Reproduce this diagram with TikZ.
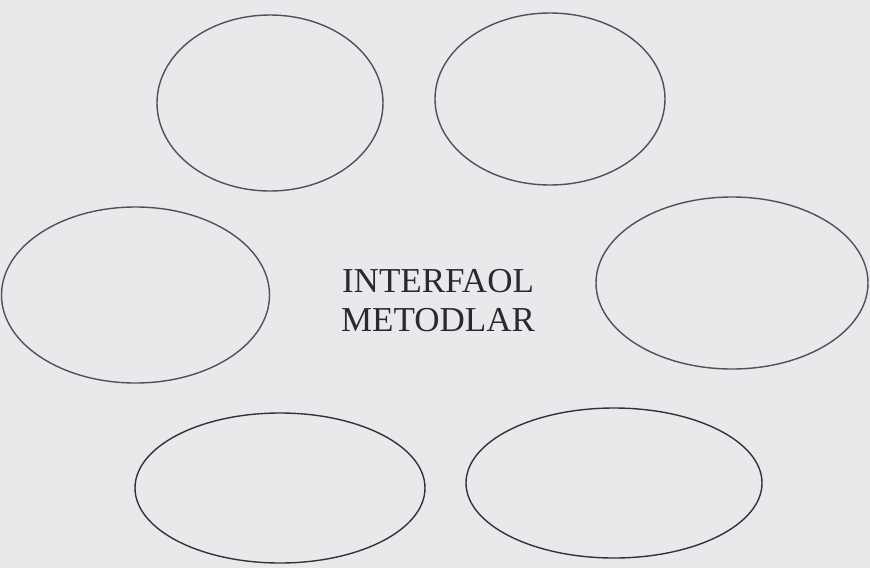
\documentclass[tikz,border=0pt]{standalone}
\usepackage{fontspec}
\setmainfont{Liberation Serif}
\usetikzlibrary{shapes.geometric}
\definecolor{paper}{RGB}{233,233,236}
\definecolor{inkline}{RGB}{80,80,86}
\definecolor{inkdark}{RGB}{50,50,56}
\definecolor{inktext}{RGB}{42,40,48}
\tikzset{
  oval/.style={ellipse, draw=inkline, line width=1.4pt, inner sep=0pt},
  darkoval/.style={oval, draw=inkdark},
  title/.style={font=\fontsize{35}{39}\selectfont, text=inktext, align=center, inner sep=0pt}
}
\begin{document}
\begin{tikzpicture}[x=1pt,y=-1pt]
\fill[paper] (0,0) rectangle (870,568);
\useasboundingbox (0,0) rectangle (870,568);
\node[oval, minimum width=226pt, minimum height=176pt] (tl) at (270,103) {};
\node[oval, minimum width=230pt, minimum height=172pt] (tr) at (550,99) {};
\node[oval, minimum width=268pt, minimum height=176pt] (ml) at (135.5,295) {};
\node[oval, minimum width=272pt, minimum height=172pt] (mr) at (732,283) {};
\node[darkoval, minimum width=290pt, minimum height=150pt] (bl) at (280,488) {};
\node[darkoval, minimum width=296pt, minimum height=150pt] (br) at (614,483) {};
\node[title] (center) at (438,300.5) {INTERFAOL\\METODLAR};
\end{tikzpicture}
\end{document}
